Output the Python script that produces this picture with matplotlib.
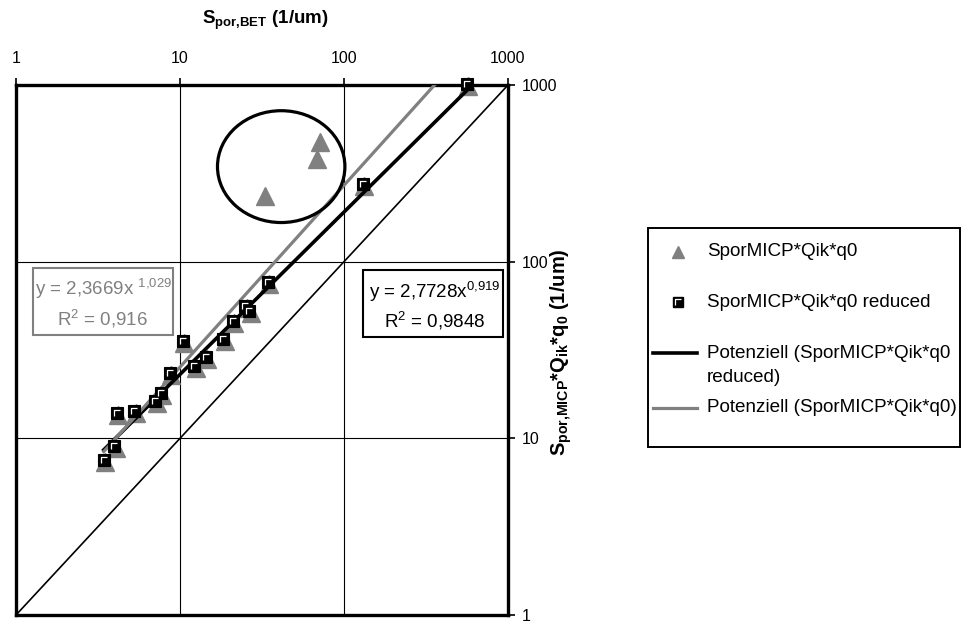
import numpy as np
import matplotlib
matplotlib.use('Agg')
import matplotlib.pyplot as plt
from matplotlib.patches import Ellipse, Rectangle
from matplotlib.lines import Line2D
from matplotlib.path import Path
from matplotlib.transforms import ScaledTranslation

plt.rcParams['font.family'] = ['Liberation Sans', 'DejaVu Sans']
plt.rcParams['mathtext.fontset'] = 'custom'
plt.rcParams['mathtext.rm'] = 'Liberation Sans'
plt.rcParams['mathtext.bf'] = 'Liberation Sans:bold'
plt.rcParams['mathtext.it'] = 'Liberation Sans:italic'
plt.rcParams['mathtext.sf'] = 'Liberation Sans'

# ---------------- data ----------------
# reduced series (all points except the circled outliers)
s_bet_reduced = [3.43, 3.98, 4.11, 5.26, 7.05, 7.64, 8.65, 10.4, 12.2, 14.4,
                 18.3, 21.0, 25.0, 26.4, 34.3, 130, 559]
s_micp_reduced = [7.5, 9.05, 13.97, 14.3, 16.2, 18.1, 23.5, 35.5, 25.8, 28.8,
                  36.6, 46.4, 56.4, 52.4, 76.8, 276, 1014]
# circled outliers (only in the full series)
outlier_bet = [32.2, 66.7, 70.2]
outlier_micp = [243, 392, 491]
# full series
s_bet_all = s_bet_reduced + outlier_bet
s_micp_all = s_micp_reduced + outlier_micp

# power-law trendlines y = a * x^b (as printed on the chart)
fit_reduced = (2.7728, 0.919)
fit_all = (2.3669, 1.029)
identity = [1, 1000]

tick_values = [1, 10, 100, 1000]
tick_labels = ['1', '10', '100', '1000']

label_all = 'SporMICP*Qik*q0'
label_reduced = 'SporMICP*Qik*q0 reduced'
label_fit_reduced = 'Potenziell (SporMICP*Qik*q0'
label_fit_reduced2 = 'reduced)'
label_fit_all = 'Potenziell (SporMICP*Qik*q0)'

GREY = '#808080'
W, H = 962, 624

fig = plt.figure(figsize=(W / 100, H / 100), dpi=100)
ax = fig.add_axes([16 / W, 1 - 615 / H, 492 / W, 530 / H])
ax.set_xscale('log')
ax.set_yscale('log')
ax.set_xlim(1, 1000)
ax.set_ylim(1, 1000)
ax.set_xticks(tick_values)
ax.set_xticklabels(tick_labels)
ax.set_yticks(tick_values)
ax.set_yticklabels(tick_labels)
ax.minorticks_off()
ax.xaxis.tick_top()
ax.yaxis.tick_right()
ax.tick_params(axis='x', direction='out', length=5, width=1.2, labelsize=11.5, pad=9)
ax.tick_params(axis='y', direction='out', length=5, width=1.2, labelsize=11.5, pad=5)
for s in ax.spines.values():
    s.set_linewidth(2.4)
ax.set_axisbelow(True)
ax.grid(True, which='major', color='black', lw=0.8)

# identity line
ax.plot(identity, identity, color='black', lw=1.2, zorder=2, solid_capstyle='butt')

# triangles (full series), drawn slightly offset as in the original
tri_off = ax.transData + ScaledTranslation(1.5 / 100, -2 / 100, fig.dpi_scale_trans)
ax.plot(s_bet_all, s_micp_all, linestyle='none', marker='^', ms=12.5,
        color=GREY, mec=GREY, zorder=3, transform=tri_off, clip_on=False)

# trendlines
xr = np.geomspace(min(s_bet_reduced), max(s_bet_reduced), 200)
ax.plot(xr, fit_reduced[0] * xr ** fit_reduced[1], color='black', lw=2.6, zorder=4)
xa = np.geomspace(min(s_bet_all), max(s_bet_all), 200)
ax.plot(xa, fit_all[0] * xa ** fit_all[1], color=GREY, lw=2.3, zorder=4)

# squares (reduced series) with white inner highlight
Lmark = Path([(-1, -1), (-1, 1), (1, 1)], [Path.MOVETO, Path.LINETO, Path.LINETO])
ax.plot(s_bet_reduced, s_micp_reduced, linestyle='none', marker='s', ms=8.5,
        mfc='black', mec='black', mew=0.8, zorder=5, clip_on=False)
ax.plot(s_bet_reduced, s_micp_reduced, linestyle='none', marker=Lmark, ms=4.8,
        mfc='none', mec='white', mew=0.9, zorder=6, clip_on=False)

# ellipse around outliers
ax.add_patch(Ellipse((0.539, 0.846), 0.259, 0.211, transform=ax.transAxes,
                     fill=False, ec='black', lw=2.3, zorder=6))

# ---- axis titles ----
fig.text(265 / W, 1 - 20 / H, r'$\mathbf{S_{por{,}BET}}$ (1/um)', ha='center', va='center',
         fontsize=13.5, fontweight='bold')
fig.text(561 / W, 1 - 352 / H,
         r'$\mathbf{S_{por{,}MICP}}$*$\mathbf{Q_{ik}}$*$\mathbf{q_0}$ (1/um)',
         rotation=90, ha='center', va='center', fontsize=14.5, fontweight='bold')

# ---- equation boxes ----
eq_fs = 13.5
fig.add_artist(Rectangle((33 / W, 1 - 335 / H), 140 / W, 67 / H, transform=fig.transFigure,
                         fill=False, ec=GREY, lw=1.5))
fig.text(104 / W, 1 - 295 / H, r'y = 2,3669x $^{1{,}029}$', ha='center', va='baseline',
         color=GREY, fontsize=eq_fs)
fig.text(103 / W, 1 - 326 / H, r'R$^{2}$ = 0,916', ha='center', va='baseline',
         color=GREY, fontsize=eq_fs)

fig.add_artist(Rectangle((363 / W, 1 - 337 / H), 140 / W, 67 / H, transform=fig.transFigure,
                         fill=False, ec='black', lw=1.5))
fig.text(435 / W, 1 - 298 / H, r'y = 2,7728x$^{0{,}919}$', ha='center', va='baseline',
         color='black', fontsize=eq_fs)
fig.text(435 / W, 1 - 327 / H, r'R$^{2}$ = 0,9848', ha='center', va='baseline',
         color='black', fontsize=eq_fs)

# ---- legend (drawn manually to match layout) ----
fig.add_artist(Rectangle((648 / W, 1 - 447 / H), 312 / W, 219 / H, transform=fig.transFigure,
                         fill=False, ec='black', lw=1.4))
def fx(px):
    return px / W
def fy(py):
    return 1 - py / H
fig.add_artist(Line2D([fx(678)], [fy(252)], transform=fig.transFigure, marker='^', ms=9,
                      color=GREY, linestyle='none'))
fig.add_artist(Line2D([fx(678)], [fy(302)], transform=fig.transFigure, marker='s', ms=7,
                      mfc='black', mec='black', linestyle='none'))
fig.add_artist(Line2D([fx(678)], [fy(302)], transform=fig.transFigure, marker=Lmark, ms=3.8,
                      mfc='none', mec='white', mew=0.9, linestyle='none'))
fig.add_artist(Line2D([fx(653), fx(697)], [fy(353), fy(353)], transform=fig.transFigure,
                      color='black', lw=2.6))
fig.add_artist(Line2D([fx(653), fx(697)], [fy(408), fy(408)], transform=fig.transFigure,
                      color=GREY, lw=2.3))
leg_fs = 13.6
fig.text(fx(707), fy(252), label_all, ha='left', va='center', fontsize=leg_fs)
fig.text(fx(707), fy(302), label_reduced, ha='left', va='center', fontsize=leg_fs)
fig.text(fx(707), fy(353), label_fit_reduced, ha='left', va='center', fontsize=leg_fs)
fig.text(fx(707), fy(377), label_fit_reduced2, ha='left', va='center', fontsize=leg_fs)
fig.text(fx(707), fy(408), label_fit_all, ha='left', va='center', fontsize=leg_fs)

fig.savefig('out.png', dpi=100)
